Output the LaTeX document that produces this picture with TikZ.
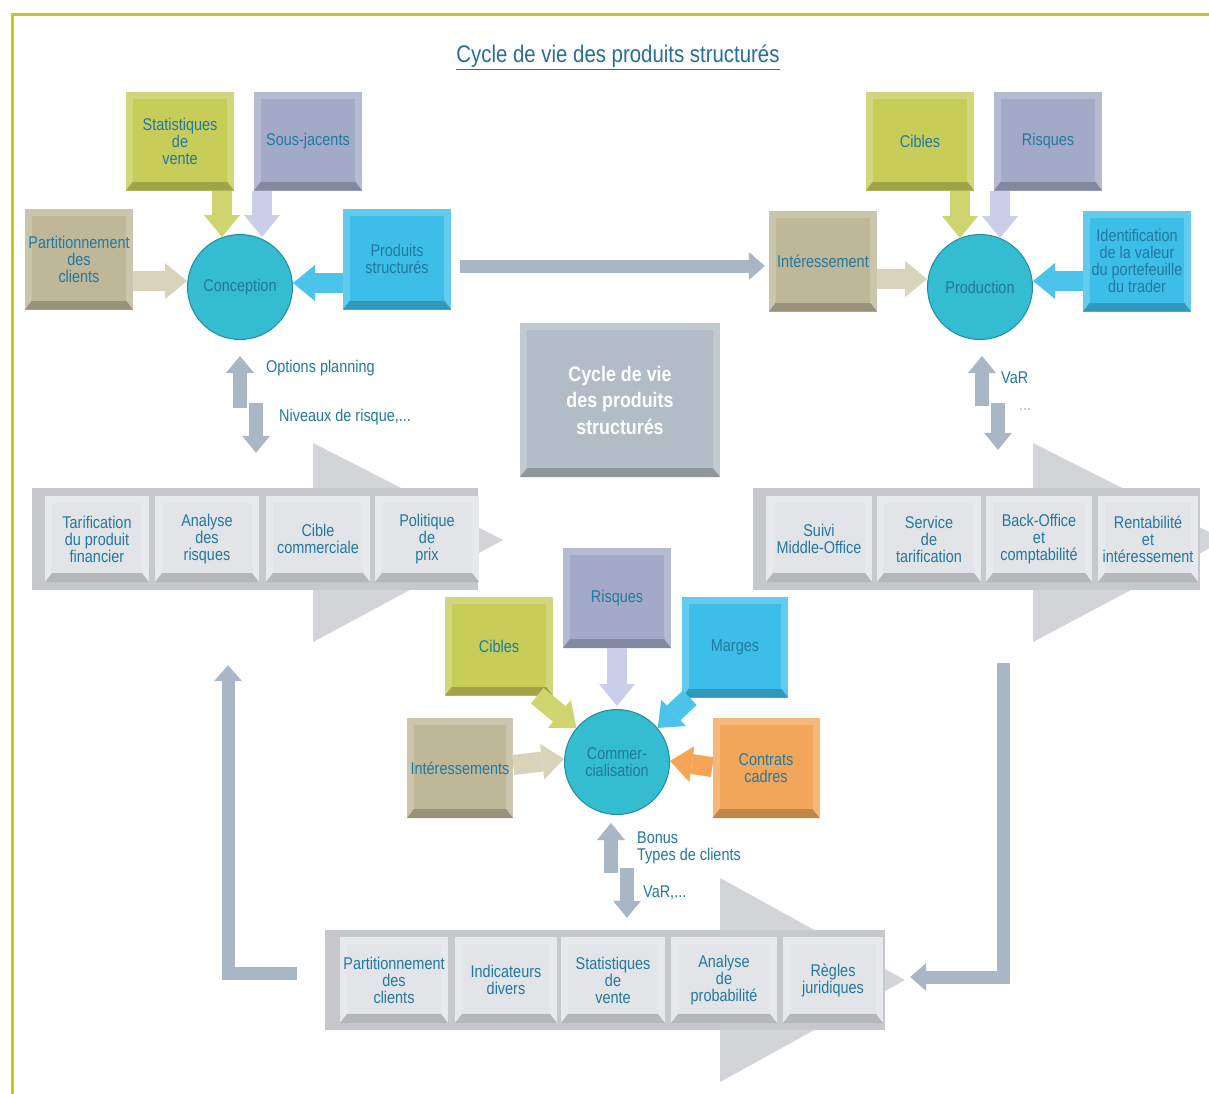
\documentclass[tikz,border=0pt]{standalone}
\usepackage{fontspec}
\setmainfont{Liberation Sans}[FakeStretch=0.85]
\usetikzlibrary{arrows.meta}
\definecolor{cOlive}{RGB}{200,205,90}
\definecolor{cOliveA}{RGB}{206,212,110}
\definecolor{cLav}{RGB}{163,170,200}
\definecolor{cLavA}{RGB}{202,206,232}
\definecolor{cTan}{RGB}{190,183,152}
\definecolor{cTanA}{RGB}{216,211,186}
\definecolor{cBlue}{RGB}{60,190,232}
\definecolor{cBlueA}{RGB}{75,195,235}
\definecolor{cOrange}{RGB}{242,166,90}
\definecolor{cOrangeA}{RGB}{246,165,85}
\definecolor{cCirc}{RGB}{52,188,208}
\definecolor{cCircD}{RGB}{35,140,160}
\definecolor{cText}{RGB}{35,120,160}
\definecolor{cTitle}{RGB}{40,110,150}
\definecolor{cConn}{RGB}{168,182,198}
\definecolor{cHead}{RGB}{210,212,216}
\definecolor{cBand}{RGB}{198,200,204}
\definecolor{cPbox}{RGB}{226,228,231}
\definecolor{cCtr}{RGB}{178,188,198}
\definecolor{cBorder}{RGB}{190,200,40}
\newcommand\boxfont{\fontsize{17}{17}\selectfont}
\newcommand\ctrfont{\fontsize{21}{26.5}\selectfont\bfseries}
\newcommand\titlefont{\fontsize{24}{26}\selectfont}
\tikzset{
  bev/.style={draw=none, fill=#1!80!white, minimum width=108pt, minimum height=99pt,
    inner sep=1pt, align=center, text=cText, font=\boxfont,
    path picture={
      \fill[#1!80!black] (path picture bounding box.south west)
        -- ([shift={(7pt,9pt)}]path picture bounding box.south west)
        -- ([shift={(-7pt,9pt)}]path picture bounding box.south east)
        -- (path picture bounding box.south east) -- cycle;
      \fill[#1] ([shift={(7pt,9pt)}]path picture bounding box.south west)
        rectangle ([shift={(-7pt,-7pt)}]path picture bounding box.north east);
    }},
  pbox/.style={bev=cPbox, minimum height=86pt},
  band/.style={fill=cBand, inner sep=0pt, minimum height=102pt},
  circ/.style={circle, fill=cCirc, draw=cCircD, line width=1pt, minimum size=105pt,
    inner sep=0pt, align=center, text=cText, font=\boxfont},
  fat/.style={line width=20pt, -{Triangle[width=36pt,length=22pt,line width=0pt]}},
  dbl/.style={draw=cConn, line width=14pt, -{Triangle[width=28pt,length=17pt,line width=0pt]}},
  conn/.style={draw=cConn, line width=13pt, -{Triangle[width=28pt,length=16pt,line width=0pt]}},
  lbl/.style={text=cText, font=\boxfont, inner sep=1pt, anchor=west},
}
\begin{document}
\begin{tikzpicture}[x=1pt,y=-1pt]
\useasboundingbox (0,0) rectangle (1209,1093);
\clip (0,0) rectangle (1209,1093);
\fill[white] (0,0) rectangle (1209,1093);
\draw[cBorder, line width=3pt] (1212,14) -- (12,14) -- (12,1096);

\node[text=cTitle, font=\titlefont] (title) at (618,57) {\underline{Cycle de vie des produits structurés}};

% ---------- top left cluster
\node[bev=cOlive] (stat) at (180,141) {Statistiques\\de\\vente};
\node[bev=cLav] (sous) at (308,141) {Sous-jacents};
\node[bev=cTan, minimum height=101pt] (part) at (79,259) {Partitionnement\\des\\clients};
\node[bev=cBlue, minimum height=101pt] (prods) at (397,259) {Produits\\structurés};
\node[circ] (conc) at (240,287) {Conception};
\draw[fat, cOliveA] ([xshift=42pt]stat.south) -- ([xshift=-18pt,yshift=-3pt]conc.north);
\draw[fat, cLavA] ([xshift=-46pt]sous.south) -- ([xshift=22pt,yshift=-3pt]conc.north);
\draw[fat, cTanA] ([yshift=-22pt]part.east) -- ([yshift=6pt]conc.west);
\draw[fat, cBlueA] ([yshift=-24pt]prods.west) -- ([yshift=4pt]conc.east);

% ---------- top right cluster
\node[bev=cOlive] (cib1) at (920,141) {Cibles};
\node[bev=cLav] (ris1) at (1048,141) {Risques};
\node[bev=cTan, minimum height=101pt] (inter) at (823,261) {Intéressement};
\node[bev=cBlue, minimum height=101pt] (ident) at (1137,261) {Identification\\de la valeur\\du portefeuille\\du trader};
\node[circ] (prodc) at (980,287) {Production};
\draw[fat, cOliveA] ([xshift=40pt]cib1.south) -- ([xshift=-20pt,yshift=-4pt]prodc.north);
\draw[fat, cLavA] ([xshift=-48pt]ris1.south) -- ([xshift=20pt,yshift=-4pt]prodc.north);
\draw[fat, cTanA] ([yshift=-18pt]inter.east) -- ([yshift=8pt]prodc.west);
\draw[fat, cBlueA] ([yshift=-20pt]ident.west) -- ([yshift=6pt]prodc.east);

% long arrow between clusters
\draw[conn, line width=13pt] ([xshift=9pt,yshift=-7pt]prods.east) -- ([xshift=-4pt,yshift=-5pt]inter.west);

% ---------- centre box
\node[bev=cCtr, minimum width=200pt, minimum height=154pt, text=white, font=\ctrfont] (ctr) at (620,400) {Cycle de vie\\des produits\\structurés};

% ---------- left process
\fill[cHead] (313,443) -- (503,540) -- (313,642) -- cycle;
\node[band, minimum width=446pt] (lband) at (255,539) {};
\node[pbox, minimum width=104pt] (l1) at (97,539) {Tarification\\du produit\\financier};
\node[pbox, minimum width=104pt] (l2) at (207,539) {Analyse\\des\\risques};
\node[pbox, minimum width=104pt] (l3) at (318,539) {Cible\\commerciale};
\node[pbox, minimum width=104pt] (l4) at (427,539) {Politique\\de\\prix};

% ---------- right process
\fill[cHead] (1033,443) -- (1225,540) -- (1033,642) -- cycle;
\node[band, minimum width=447pt] (rband) at (976.5,539) {};
\node[pbox, minimum width=106pt] (r1) at (819,539) {Suivi\\Middle-Office};
\node[pbox, minimum width=104pt] (r2) at (929,539) {Service\\de\\tarification};
\node[pbox, minimum width=106pt] (r3) at (1039,539) {Back-Office\\et\\comptabilité};
\node[pbox, minimum width=100pt] (r4) at (1148,539) {Rentabilité\\et\\intéressement};

% ---------- bottom process
\fill[cHead] (720,878) -- (905,980) -- (720,1082) -- cycle;
\node[band, minimum width=560pt, minimum height=100pt] (bband) at (605,980) {};
\node[pbox, minimum width=108pt] (b1) at (394,980) {Partitionnement\\des\\clients};
\node[pbox, minimum width=102pt] (b2) at (506,980) {Indicateurs\\divers};
\node[pbox, minimum width=104pt] (b3) at (613,980) {Statistiques\\de\\vente};
\node[pbox, minimum width=106pt] (b4) at (724,980) {Analyse\\de\\probabilité};
\node[pbox, minimum width=100pt] (b5) at (833,980) {Règles\\juridiques};

% ---------- bottom cluster
\node[bev=cLav, minimum height=100pt] (ris2) at (617,598) {Risques};
\node[bev=cOlive] (cib2) at (499,646) {Cibles};
\node[bev=cBlue, minimum width=106pt, minimum height=101pt] (marg) at (735,647) {Marges};
\node[bev=cTan, minimum width=106pt, minimum height=100pt] (inter2) at (460,768) {Intéressements};
\node[bev=cOrange, minimum width=107pt, minimum height=100pt] (contr) at (766,768) {Contrats\\cadres};
\node[circ] (comm) at (617,762) {Commer-\\cialisation};
\draw[fat, cLavA] (ris2.south) -- ([yshift=3pt]comm.north);
\draw[fat, cOliveA] ([xshift=-16pt]cib2.south east) -- (comm.140);
\draw[fat, cBlueA] ([xshift=8pt]marg.south west) -- (comm.40);
\draw[fat, cTanA] ([yshift=3pt]inter2.east) -- ([yshift=3pt]comm.west);
\draw[fat, cOrangeA] ([yshift=1pt]contr.west) -- ([yshift=1pt]comm.east);

% ---------- double arrows
\draw[dbl] ([yshift=-68pt]conc.south) -- ([yshift=-16pt]conc.south);
\draw[dbl] ([xshift=16pt,yshift=-63pt]conc.south) -- ([xshift=1pt,yshift=35pt]lband.north);
\draw[dbl] ([xshift=2pt,yshift=-66pt]prodc.south) -- ([xshift=2pt,yshift=-16pt]prodc.south);
\draw[dbl] ([xshift=18pt,yshift=-63pt]prodc.south) -- ([xshift=21.5pt,yshift=38pt]rband.north);
\draw[dbl] ([xshift=-6pt,yshift=-58pt]comm.south) -- ([xshift=-6pt,yshift=-8pt]comm.south);
\draw[dbl] ([xshift=10pt,yshift=-53pt]comm.south) -- ([xshift=22pt,yshift=12pt]bband.north);

\node[lbl] (op) at (265,368) {Options planning};
\node[lbl] (nr) at (278,417) {Niveaux de risque,...};
\node[lbl] (var1) at (1000,378) {VaR};
\node[lbl, text=cConn] (dots1) at (1018,410) {...};
\node[lbl] (bonus) at (636,838) {Bonus};
\node[lbl] (types) at (636,856) {Types de clients};
\node[lbl] (var2) at (642,893) {VaR,...};

% ---------- L connectors
\draw[conn] ([xshift=-28pt,yshift=7pt]bband.west) -| ([xshift=-27pt,yshift=-75pt]lband.south);
\draw[conn] ([xshift=26.5pt,yshift=-73pt]rband.south) |- ([xshift=25pt,yshift=3pt]bband.east);
\end{tikzpicture}
\end{document}
